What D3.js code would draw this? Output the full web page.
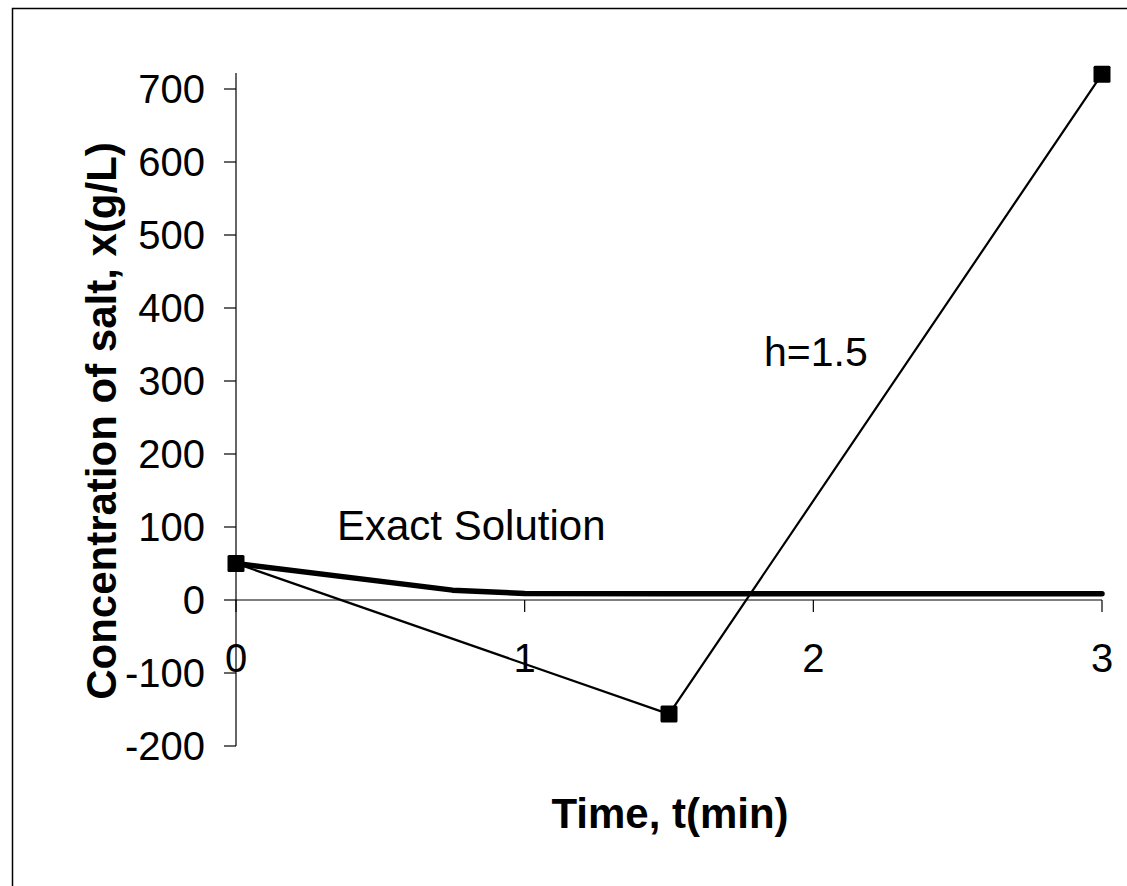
<!DOCTYPE html>
<html>
<head>
<meta charset="utf-8">
<script src="https://cdn.jsdelivr.net/npm/d3@7"></script>
<style>
  body { margin: 0; background: #fff; overflow: hidden; }
  svg { display: block; }
  text { font-family: "Liberation Sans", Arial, sans-serif; fill: #000; }
</style>
</head>
<body>
<div id="chart"></div>
<script>
// Euler's method, h = 1.5
var eulerT = [0, 1.5, 3];
var eulerX = [50, -156.25, 720.3];

// Exact solution
var exactT = [0, 0.75, 1, 1.5, 2.25, 3];
var exactX = [50, 13.5, 9, 8.5, 8.5, 8.5];

var xTicks = [0, 1, 2, 3];
var yTicks = [-200, -100, 0, 100, 200, 300, 400, 500, 600, 700];

var width = 1127, height = 886;

var svg = d3.select("#chart")
    .append("svg")
        .attr("width", width)
        .attr("height", height);

// frame: only top and left edges show in the crop
svg.append("path")
    .attr("d", "M12.5," + height + "V8.5H" + width)
    .attr("fill", "none")
    .attr("stroke", "#000")
    .attr("stroke-width", 1.5);

// scales
var x = d3.scaleLinear().domain([0, 3]).range([236, 1102]);
var y = d3.scaleLinear().domain([-200, 700]).range([746, 89]);

// y axis
var yAxis = svg.append("g");
yAxis.append("line")
    .attr("x1", x(0)).attr("x2", x(0))
    .attr("y1", y(722)).attr("y2", y(-200))
    .attr("stroke", "#000").attr("stroke-width", 1.2);
yAxis.selectAll(".ytick")
    .data(yTicks)
    .enter()
    .append("line")
        .attr("x1", x(0) - 12).attr("x2", x(0))
        .attr("y1", function(d) { return y(d); })
        .attr("y2", function(d) { return y(d); })
        .attr("stroke", "#000").attr("stroke-width", 1.2);
yAxis.selectAll(".ylab")
    .data(yTicks)
    .enter()
    .append("text")
        .attr("x", 205)
        .attr("y", function(d) { return y(d); })
        .attr("dy", "0.36em")
        .style("text-anchor", "end")
        .style("font-size", "40px")
        .text(function(d) { return d; });

// x axis
var xAxis = svg.append("g");
xAxis.append("line")
    .attr("x1", x(0)).attr("x2", x(3))
    .attr("y1", y(0)).attr("y2", y(0))
    .attr("stroke", "#000").attr("stroke-width", 1.2);
xAxis.selectAll(".xtick")
    .data(xTicks)
    .enter()
    .append("line")
        .attr("x1", function(d) { return x(d); })
        .attr("x2", function(d) { return x(d); })
        .attr("y1", y(0)).attr("y2", y(0) + 12)
        .attr("stroke", "#000").attr("stroke-width", 1.2);
xAxis.selectAll(".xlab")
    .data(xTicks)
    .enter()
    .append("text")
        .attr("x", function(d) { return x(d); })
        .attr("y", 672)
        .style("text-anchor", "middle")
        .style("font-size", "40px")
        .text(function(d) { return d; });

// lines
var line = d3.line()
    .x(function(d) { return x(d[0]); })
    .y(function(d) { return y(d[1]); });

var exactData = d3.zip(exactT, exactX);
var eulerData = d3.zip(eulerT, eulerX);

svg.append("path")
    .attr("d", line(exactData))
    .attr("fill", "none")
    .attr("stroke", "#000")
    .attr("stroke-width", 5.5)
    .attr("stroke-linecap", "round")
    .attr("stroke-linejoin", "round");

svg.append("path")
    .attr("d", line(eulerData))
    .attr("fill", "none")
    .attr("stroke", "#000")
    .attr("stroke-width", 2.2);

// markers
svg.selectAll(".marker")
    .data(eulerData)
    .enter()
    .append("rect")
        .attr("x", function(d) { return x(d[0]) - 8.5; })
        .attr("y", function(d) { return y(d[1]) - 8.5; })
        .attr("width", 17)
        .attr("height", 17)
        .attr("rx", 1.5)
        .attr("fill", "#000");

// annotations
svg.append("text")
    .attr("x", 337).attr("y", 540)
    .style("font-size", "42px")
    .text("Exact Solution");

svg.append("text")
    .attr("x", 764).attr("y", 366)
    .style("font-size", "41px")
    .text("h=1.5");

// axis titles
svg.append("text")
    .attr("x", 670).attr("y", 828)
    .style("text-anchor", "middle")
    .style("font-size", "42px")
    .style("font-weight", "bold")
    .text("Time, t(min)");

svg.append("text")
    .attr("transform", "translate(116,421) rotate(-90)")
    .style("text-anchor", "middle")
    .style("font-size", "42px")
    .style("font-weight", "bold")
    .text("Concentration of salt, x(g/L)");
</script>
</body>
</html>
